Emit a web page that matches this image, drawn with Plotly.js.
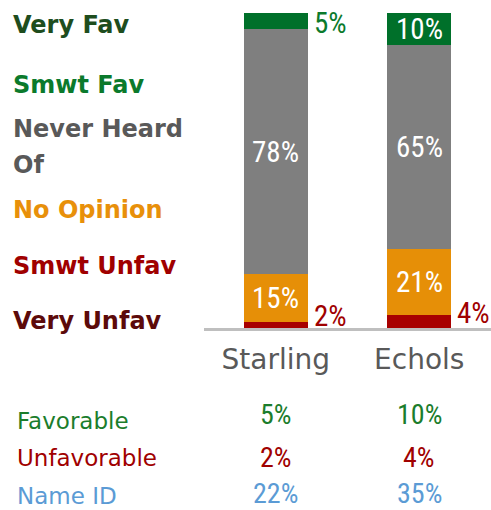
<!DOCTYPE html>
<html>
<head>
<meta charset="utf-8">
<script src="https://cdn.plot.ly/plotly-3.0.1.min.js"></script>
<style>
  html, body { margin: 0; padding: 0; background: #ffffff; }
  #chart { width: 491px; height: 510px; }
</style>
</head>
<body>
<div id="chart"></div>
<script>
// ---- data ----
var candidates = ['Starling', 'Echols'];
var seriesNames = ['Very Unfav', 'Smwt Unfav', 'No Opinion', 'Never Heard Of', 'Smwt Fav', 'Very Fav'];
var veryUnfav   = [0, 0];
var smwtUnfav   = [2, 4];
var noOpinion   = [15, 21];
var neverHeard  = [78, 65];
var smwtFav     = [5, 10];
var veryFav     = [0, 0];
var tableLabels = ['Favorable', 'Unfavorable', 'Name ID'];
var favorable   = [5, 10];
var unfavorable = [2, 4];
var nameId      = [22, 35];

// ---- styles ----
var seriesValues = [veryUnfav, smwtUnfav, noOpinion, neverHeard, smwtFav, veryFav];
var barColors  = ['#5c0a0a', '#a80000', '#e68f07', '#7f7f7f', '#00702a', '#1f4d1f'];
var textColors = ['#5c0a0a', '#a00000', '#e8900a', '#595959', '#0b7a2c', '#1e4d1e'];
var labelPy    = [321, 266, 210, 129, 85, 25];   // pixel centres of left-hand labels
var labelLineGap = 36;
var tableRows  = [favorable, unfavorable, nameId];
var tableColors = ['#1b7d2c', '#a00000', '#5b9bd5'];
var tableLabelPy = [421, 458, 496];
var tableValuePy = [414, 458, 493.5];

var numFont = "'Roboto Condensed', Roboto, 'DejaVu Sans Condensed', sans-serif";
var txtFont = "'DejaVu Sans', Verdana, sans-serif";

var M = {l: 204, r: 0, t: 13, b: 182};
var W = 491, H = 510;
var plotH = H - M.t - M.b, plotW = W - M.l - M.r;
function py2paper(py) { return (H - M.b - py) / plotH; }
function px2paper(px) { return (px - M.l) / plotW; }

var traces = seriesNames.map(function (name, i) {
  return {
    type: 'bar',
    name: name,
    x: candidates,
    y: seriesValues[i],
    width: 0.446,
    marker: {color: barColors[i], line: {width: 0}},
    hoverinfo: 'skip'
  };
});

var annotations = [];
// segment labels
candidates.forEach(function (c, ci) {
  var base = 0;
  seriesValues.forEach(function (vals, si) {
    var v = vals[ci];
    if (v > 0) {
      var inside = v >= 8;
      annotations.push({
        xref: 'x', yref: 'y', x: c, y: base + v / 2,
        text: v + '%', showarrow: false,
        xanchor: inside ? 'center' : 'left',
        yanchor: 'middle',
        xshift: inside ? 0 : 36,
        yshift: inside ? 0 : (base === 0 ? 9 : -2),
        font: {family: numFont, size: 29, color: inside ? '#ffffff' : textColors[si]}
      });
    }
    base += v;
  });
});
// left legend-like labels
seriesNames.forEach(function (name, si) {
  var lines = name.replace(' Of', '\nOf').split('\n');
  lines.forEach(function (line, li) {
    annotations.push({
      xref: 'paper', yref: 'paper', x: px2paper(11), y: py2paper(labelPy[si] + li * labelLineGap),
      xanchor: 'left', yanchor: 'middle', align: 'left', showarrow: false,
      text: '<b>' + line + '</b>',
      font: {family: txtFont, size: 24, color: textColors[si]}
    });
  });
});
// table rows
tableLabels.forEach(function (lab, ri) {
  annotations.push({
    xref: 'paper', yref: 'paper', x: px2paper(15), y: py2paper(tableLabelPy[ri]),
    xanchor: 'left', yanchor: 'middle', showarrow: false,
    text: lab, font: {family: txtFont, size: 23, color: tableColors[ri]}
  });
  candidates.forEach(function (c, ci) {
    annotations.push({
      xref: 'x', yref: 'paper', x: c, y: py2paper(tableValuePy[ri]),
      xanchor: 'center', yanchor: 'middle', showarrow: false,
      text: tableRows[ri][ci] + '%',
      font: {family: numFont, size: 28, color: tableColors[ri]}
    });
  });
});

var layout = {
  width: W, height: H,
  margin: M,
  paper_bgcolor: '#ffffff', plot_bgcolor: '#ffffff',
  barmode: 'stack',
  showlegend: false,
  xaxis: {
    type: 'category', range: [-0.5, 1.5],
    showline: true, linecolor: '#bfbfbf', linewidth: 3,
    ticks: '', showgrid: false, zeroline: false,
    ticklabelstandoff: 4,
    tickfont: {family: txtFont, size: 28, color: '#595959'}
  },
  yaxis: {range: [0, 100], visible: false, showgrid: false, zeroline: false},
  annotations: annotations
};

Plotly.newPlot('chart', traces, layout, {staticPlot: true, displayModeBar: false});
</script>
</body>
</html>
